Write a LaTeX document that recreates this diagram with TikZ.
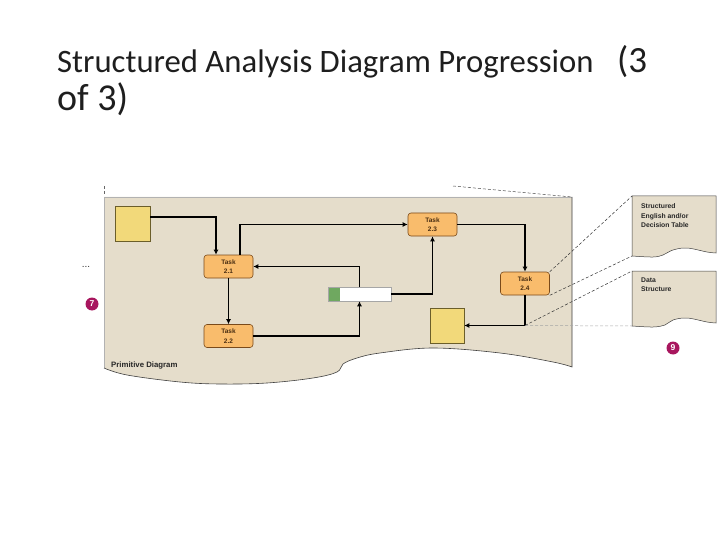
\documentclass[tikz,border=0pt]{standalone}
\usepackage{fontspec}
\setmainfont{Carlito}
\newfontfamily\smallsans{Liberation Sans}
\usetikzlibrary{arrows.meta}
\definecolor{panelfill}{HTML}{E5DDCB}
\definecolor{taskfill}{HTML}{F9BC6C}
\definecolor{taskline}{HTML}{7A4A1A}
\definecolor{tasktext}{HTML}{4A2E12}
\definecolor{yellowfill}{HTML}{F2D97A}
\definecolor{yellowline}{HTML}{6B5E2A}
\definecolor{storegreen}{HTML}{6FA860}
\definecolor{badge}{HTML}{A8165E}
\definecolor{titlegray}{HTML}{1E1E1E}
\begin{document}
\begin{tikzpicture}[x=1pt,y=-1pt,
  taskbox/.style={rectangle, rounded corners=3pt, draw=taskline, line width=0.6pt, fill=taskfill,
    minimum width=49pt, minimum height=23pt, inner sep=0pt, align=center,
    font=\smallsans\bfseries\fontsize{6.5}{9.5}\selectfont, text=tasktext},
  yellowbox/.style={rectangle, draw=yellowline, line width=0.6pt, fill=yellowfill, inner sep=0pt},
  flow/.style={line width=1.4pt, -{Latex[length=5pt,width=5pt]}},
  guide/.style={dashed, line width=0.5pt, dash pattern=on 3pt off 2pt},
  docbox/.style={fill=panelfill, draw=black!75, line width=0.5pt},
  doctext/.style={anchor=north west, inner sep=0pt, align=left,
    font=\smallsans\bfseries\fontsize{6.8}{9.6}\selectfont, text=black!85},
  badgestyle/.style={circle, fill=badge, inner sep=0pt, minimum size=13pt,
    font=\smallsans\bfseries\fontsize{8.5}{8.5}\selectfont, text=white},
  titlestyle/.style={anchor=base west, inner sep=0pt, text=titlegray}
]
\useasboundingbox (0,0) rectangle (720,540);

% title
\node[titlestyle, font=\fontsize{32.7}{38}\selectfont] (title1) at (57,72.7) {Structured Analysis Diagram Progression};
\node[titlestyle, font=\fontsize{37}{44}\selectfont] (title2) at (617,72.7) {(3};
\node[titlestyle, font=\fontsize{38}{44}\selectfont] (title3) at (57,110.5) {of 3)};

% main panel
\fill[panelfill] (104,197) -- (572,197) -- (572,367)
  -- plot[smooth, tension=0.6] coordinates {(572,367) (553,362) (500,353) (433,348) (380,353) (357,358) (343,364) (337,372) (313,378) (267,383) (220,384) (180,382) (127,375) (104,368)} -- cycle;
\draw[gray!60, line width=0.6pt] (104,368) -- (104,197) -- (572,197);
\draw[black!75, line width=0.6pt] (572,197) -- (572,367)
  -- plot[smooth, tension=0.6] coordinates {(572,367) (553,362) (500,353) (433,348) (380,353) (357,358) (343,364) (337,372) (313,378) (267,383) (220,384) (180,382) (127,375) (104,368)};
\draw[guide, black!70] (453,186) -- (572,197);
\draw[guide, black!60] (104,186) -- (104,196);

% right documents
\draw[docbox] (632,196) -- (716,196) -- (716,253)
  -- plot[smooth, tension=0.6] coordinates {(716,253) (707,252) (687,248) (673,250) (663,255) (653,257) (632,256)} -- cycle;
\draw[docbox] (632,271) -- (716,271) -- (716,323)
  -- plot[smooth, tension=0.6] coordinates {(716,323) (707,322) (687,318) (673,320) (665,325) (653,327) (632,326)} -- cycle;
\coordinate (d1nw) at (632,196);
\coordinate (d1sw) at (632,256);
\coordinate (d2nw) at (632,271);
\coordinate (d2sw) at (632,326);
\node[doctext] (d1text) at (641,203.5) {Structured\\English and/or\\Decision Table};
\node[doctext] (d2text) at (641,277.5) {Data\\Structure};

% nodes
\node[yellowbox, minimum width=35pt, minimum height=35pt] (ys1) at (132.5,223.5) {};
\node[yellowbox, minimum width=34pt, minimum height=35pt] (ys2) at (447,325.5) {};
\node[taskbox] (t21) at (228.5,266.5) {Task\\2.1};
\node[taskbox] (t22) at (228.5,336) {Task\\2.2};
\node[taskbox] (t23) at (432.5,224.5) {Task\\2.3};
\node[taskbox] (t24) at (525,283.5) {Task\\2.4};
\node[rectangle, draw=gray!70, line width=0.5pt, fill=white, minimum width=63pt, minimum height=14pt, inner sep=0pt] (store) at (359.5,294) {};
\fill[storegreen] ([xshift=0.3pt,yshift=-0.3pt]store.north west) rectangle ([xshift=12pt,yshift=0.3pt]store.south west);
\draw[gray!70, line width=0.5pt] (store.north west) rectangle (store.south east);

% connectors
\draw[flow] (ys1.east |- 0,217) -| (216,0 |- t21.north);
\draw[flow] (240,0 |- t21.north) |- (t23.west);
\draw[flow] (store.north) |- (t21.east);
\draw[flow] (t21.south) -- (t22.north);
\draw[flow] (t22.east) -| (store.south);
\draw[flow] (store.east) -| (t23.south);
\draw[flow] (t23.east) -| (t24.north);
\coordinate (bend) at (t24.south |- ys2.east);
\draw[flow] (t24.south) -- (bend) -- (ys2.east);

% guide lines
\draw[guide, black!80] (t24.north east) -- (d1nw);
\draw[guide, black!80] (t24.south east) -- (d1sw);
\draw[guide, black!80] (bend) -- (d2nw);
\draw[guide, gray!70] (bend) -- (d2sw);

% labels
\node[anchor=base west, inner sep=0pt, font=\smallsans\bfseries\fontsize{7.8}{9}\selectfont, text=black!85] (prim) at (111,367) {Primitive Diagram};
\node[inner sep=0pt, font=\smallsans\fontsize{10}{10}\selectfont, text=black!80] (dots) at (86,267) {...};
\node[badgestyle] (b7) at (92,304) {7};
\node[badgestyle] (b9) at (673,348) {9};
\end{tikzpicture}
\end{document}
